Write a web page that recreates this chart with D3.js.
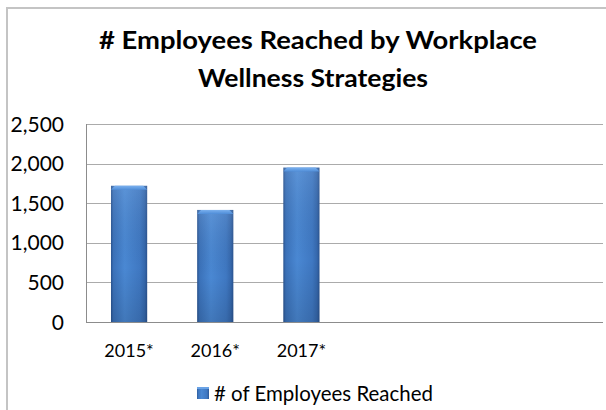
<!DOCTYPE html>
<html>
<head>
<meta charset="utf-8">
<script src="https://cdn.jsdelivr.net/npm/d3@7"></script>
<style>
  html, body { margin: 0; padding: 0; background: #fff; }
  svg { display: block; }
  text { font-family: Lato, "Open Sans", sans-serif; fill: #000; }
</style>
</head>
<body>
<svg id="chart" width="606" height="410"></svg>
<script>
// Employees reached per year; the category axis keeps six slots, three of them still empty
const titleLines = ["# Employees Reached by Workplace", "Wellness Strategies"];
const categories = ["2015*", "2016*", "2017*"];
const slotCount = 6;
const employeesReached = [1720, 1415, 1950];
const yTicks = [0, 500, 1000, 1500, 2000, 2500];
const seriesName = "# of Employees Reached";

const svg = d3.select("#chart");
const plot = { left: 86, right: 603, top: 124, bottom: 322 };

const x = d3.scaleBand()
  .domain(d3.range(slotCount))
  .range([plot.left, plot.right])
  .paddingInner(0.58)
  .paddingOuter(0.29);

const y = d3.scaleLinear()
  .domain([0, 2500])
  .range([plot.bottom, plot.top]);

// chart frame (extends past the right and bottom edges)
svg.append("rect")
  .attr("x", 7).attr("y", 8)
  .attr("width", 800).attr("height", 600)
  .attr("fill", "none")
  .attr("stroke", "#c4c4c4")
  .attr("stroke-width", 2);

// title
const titleX = [318, 313];
const titleLen = [438, 230];
svg.append("g").selectAll("text")
  .data(titleLines)
  .join("text")
  .attr("x", (d, i) => titleX[i])
  .attr("y", (d, i) => 48.5 + i * 38.5)
  .attr("text-anchor", "middle")
  .attr("font-size", 24)
  .attr("font-weight", "bold")
  .attr("textLength", (d, i) => titleLen[i])
  .attr("lengthAdjust", "spacingAndGlyphs")
  .text(d => d);

// gradients for the bevelled bars
const defs = svg.append("defs");
const hGrad = defs.append("linearGradient").attr("id", "barH")
  .attr("x1", "0").attr("x2", "1").attr("y1", "0").attr("y2", "0");
[["0%", "#2a5491"], ["7%", "#3b72ba"], ["38%", "#4a88d3"], ["80%", "#3f78c2"], ["93%", "#3568ad"], ["100%", "#2a5390"]]
  .forEach(([o, c]) => hGrad.append("stop").attr("offset", o).attr("stop-color", c));
const vGrad = defs.append("linearGradient").attr("id", "barV")
  .attr("x1", "0").attr("x2", "0").attr("y1", "0").attr("y2", "1");
[["0%", "#ffffff", 0.10], ["60%", "#000000", 0.0], ["100%", "#000000", 0.12]]
  .forEach(([o, c, a]) => vGrad.append("stop").attr("offset", o).attr("stop-color", c).attr("stop-opacity", a));
const capGrad = defs.append("linearGradient").attr("id", "barCap")
  .attr("x1", "0").attr("x2", "0").attr("y1", "0").attr("y2", "1");
[["0%", "#7ab0ee"], ["100%", "#4f8dd8"]]
  .forEach(([o, c]) => capGrad.append("stop").attr("offset", o).attr("stop-color", c));

// gridlines
svg.append("g").selectAll("line")
  .data(yTicks.filter(t => t > 0))
  .join("line")
  .attr("x1", plot.left).attr("x2", plot.right)
  .attr("y1", d => Math.round(y(d)) + 0.5)
  .attr("y2", d => Math.round(y(d)) + 0.5)
  .attr("stroke", "#ababab")
  .attr("stroke-width", 1);

// bars
const bars = svg.append("g").selectAll("g")
  .data(employeesReached)
  .join("g");

bars.append("rect")
  .attr("x", (d, i) => x(i))
  .attr("y", d => y(d))
  .attr("width", x.bandwidth())
  .attr("height", d => y(0) - y(d))
  .attr("fill", "url(#barH)");

bars.append("rect")
  .attr("x", (d, i) => x(i))
  .attr("y", d => y(d))
  .attr("width", x.bandwidth())
  .attr("height", d => y(0) - y(d))
  .attr("fill", "url(#barV)");

// bevelled top cap
bars.append("path")
  .attr("d", (d, i) => {
    const x0 = x(i), x1 = x(i) + x.bandwidth(), t = y(d), b = 4;
    return `M${x0},${t + b}L${x0 + b},${t}L${x1 - b},${t}L${x1},${t + b}Z`;
  })
  .attr("fill", "url(#barCap)");

// axes lines
svg.append("line")
  .attr("x1", plot.left + 0.5).attr("x2", plot.left + 0.5)
  .attr("y1", plot.top).attr("y2", plot.bottom + 1)
  .attr("stroke", "#8c8c8c");
svg.append("line")
  .attr("x1", plot.left).attr("x2", plot.right)
  .attr("y1", Math.round(y(0)) + 0.5).attr("y2", Math.round(y(0)) + 0.5)
  .attr("stroke", "#8c8c8c");

// y tick labels
svg.append("g").selectAll("text")
  .data(yTicks)
  .join("text")
  .attr("x", 64)
  .attr("y", d => y(d))
  .attr("dy", "0.36em")
  .attr("text-anchor", "end")
  .attr("font-size", 21)
  .text(d => d3.format(",")(d));

// x tick labels
svg.append("g").selectAll("text")
  .data(categories)
  .join("text")
  .attr("x", (d, i) => x(i) + x.bandwidth() / 2)
  .attr("y", 357)
  .attr("text-anchor", "middle")
  .attr("font-size", 18)
  .text(d => d);

// legend
const legend = svg.append("g");
legend.append("rect")
  .attr("x", 197).attr("y", 387)
  .attr("width", 12).attr("height", 12)
  .attr("fill", "url(#barH)");
legend.append("rect")
  .attr("x", 197).attr("y", 387)
  .attr("width", 12).attr("height", 2)
  .attr("fill", "#6aa3e6");
legend.append("text")
  .attr("x", 214).attr("y", 401)
  .attr("font-size", 22)
  .attr("textLength", 219)
  .attr("lengthAdjust", "spacingAndGlyphs")
  .text(seriesName);
</script>
</body>
</html>
